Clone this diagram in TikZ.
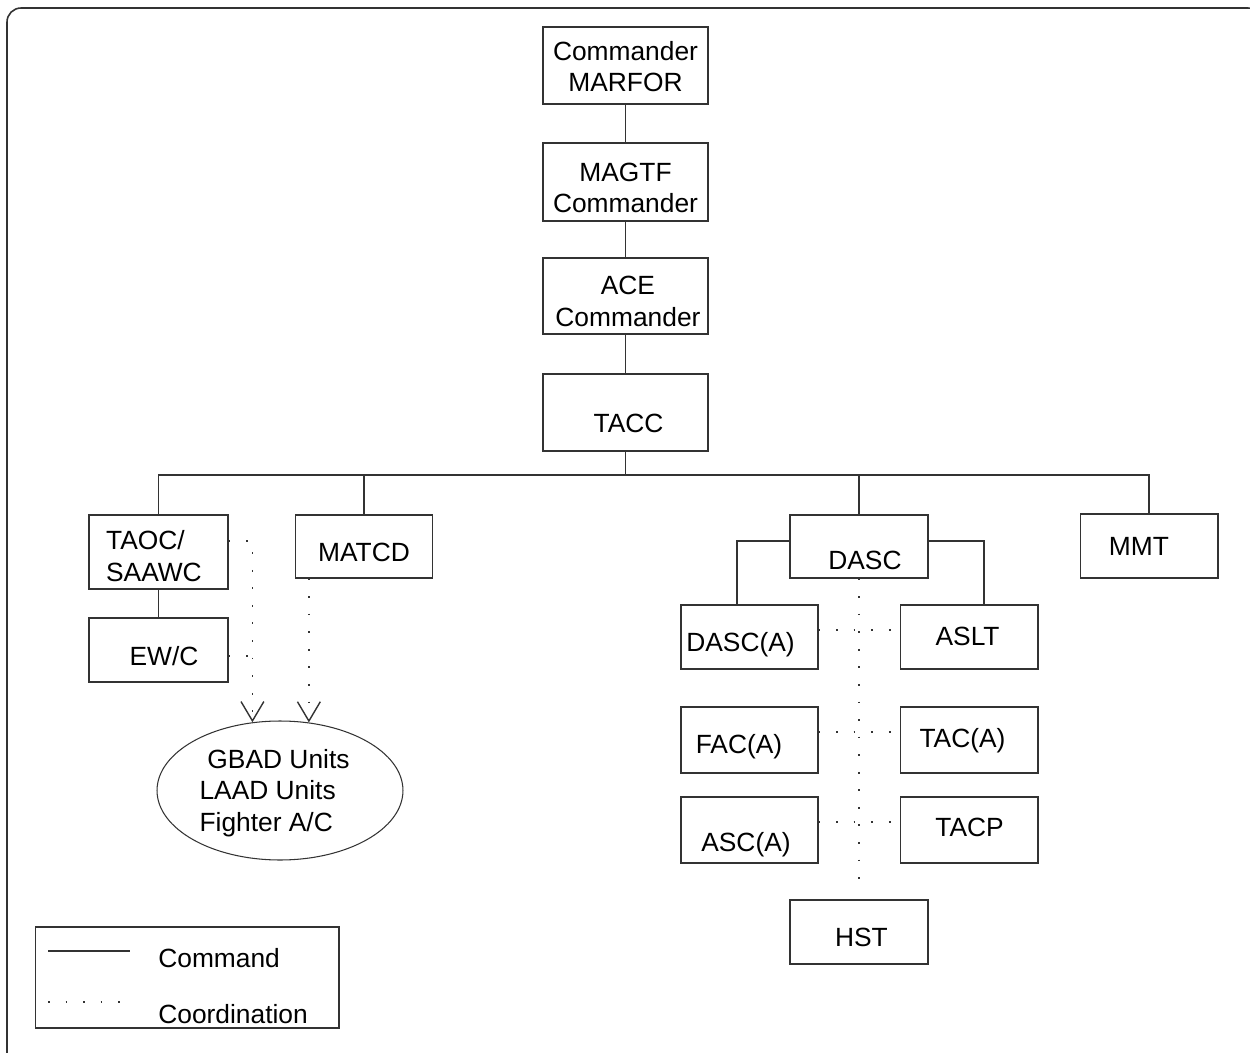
\documentclass[tikz,border=0pt]{standalone}
\usepackage{fontspec}
\setmainfont{Liberation Sans}
\usetikzlibrary{arrows.meta,shapes.geometric,calc}
\definecolor{linegray}{HTML}{333333}
% label text, moved right by #1 and down by #2 (pt) inside its box
\newcommand{\boxtxt}[3]{\raisebox{-#2pt}[\height][\depth]{\hspace*{#1pt}#3\hspace*{-#1pt}}}
\newcommand{\twolines}[2]{\begin{tabular}{@{}c@{}}#1\\#2\end{tabular}}
\tikzset{%
  box/.style={draw=linegray, line width=0.6pt, minimum width=2.76cm, minimum height=1.28cm, inner sep=0pt},
  topbox/.style={box, minimum width=3.3cm, minimum height=1.54cm},
  cmd/.style={draw=linegray, line width=0.6pt},
  coordline/.style={draw=linegray, line width=0.8pt, dash pattern=on 1pt off 9pt},
  vtip/.style={-{Straight Barb[length=11pt,width=13pt,line width=0.8pt]}}
}
\begin{document}
\begin{tikzpicture}[x=0.02cm, y=-0.02cm, font=\fontsize{15}{18}\selectfont]
    \clip (0,0) rectangle (1250,1053);
    \useasboundingbox (0,0) rectangle (1250,1053);
    % \draw (0,0) grid[step=50] (1250,1053);

    % frame, only top and left edge show
    \draw[linegray, line width=0.9pt, rounded corners=8pt] (7,1080) -- (7,8) -- (1262,8) -- (1262,1080);

      \node[topbox] (marfor) at (625.5,65.5) {\boxtxt{0}{2.4}{\twolines{Commander}{MARFOR}}};
      \node[topbox, minimum height=1.56cm] (magtf) at (625.5,182) {\boxtxt{0}{5}{\twolines{MAGTF}{Commander}}};
      \node[topbox, minimum height=1.52cm] (ace) at (625.5,296) {\boxtxt{1.4}{4.7}{\twolines{ACE}{Commander}}};
      \node[topbox] (tacc) at (625.5,412.5) {\boxtxt{1.7}{6}{TACC}};

      \node[box, minimum width=2.78cm, minimum height=1.48cm] (taoc) at (158.5,552)
        {\boxtxt{-2.6}{4.1}{\begin{tabular}{@{}l@{}}TAOC/\\SAAWC\end{tabular}}};
      \node[box, minimum width=2.78cm] (ewc) at (158.5,650) {\boxtxt{3.1}{3.7}{EW/C}};
      \node[box, minimum width=2.74cm, minimum height=1.26cm] (matcd) at (364,546.5) {\boxtxt{0}{3.4}{MATCD}};
      \node[box, minimum height=1.26cm] (dasc) at (859,546.5) {\boxtxt{3.4}{7.7}{DASC}};
      \node[box] (mmt) at (1149,546) {\boxtxt{-5.7}{0.5}{MMT}};

      \node[box, minimum width=2.74cm] (dasca) at (749.5,637) {\boxtxt{-5.1}{4.4}{DASC(A)}};
      \node[box] (aslt) at (969,637) {\boxtxt{-0.8}{-0.6}{ASLT}};
      \node[box, minimum width=2.74cm, minimum height=1.32cm] (faca) at (749.5,740) {\boxtxt{-6}{3.9}{FAC(A)}};
      \node[box, minimum height=1.32cm] (taca) at (969,740) {\boxtxt{-3.7}{0.2}{TAC(A)}};
      \node[box, minimum width=2.74cm, minimum height=1.32cm] (asca) at (749.5,830) {\boxtxt{-2}{8.1}{ASC(A)}};
      \node[box, minimum height=1.32cm] (tacp) at (969,830) {\boxtxt{0.3}{-1.4}{TACP}};
      \node[box] (hst) at (859,932) {\boxtxt{1.4}{3.1}{HST}};

      \node[ellipse, draw=linegray, line width=0.6pt, inner sep=0pt, minimum width=4.92cm, minimum height=2.78cm] (units) at (280,790.5)
        {\boxtxt{-3.1}{1.6}{\begin{tabular}{@{}l@{}}\hspace*{4.5pt}GBAD Units\\LAAD Units\\Fighter A/C\end{tabular}}};

      % command lines
      \coordinate (bus) at (625.5,475);
      \foreach \a/\b in {marfor/magtf, magtf/ace, ace/tacc, taoc/ewc}
        \draw[cmd] (\a) -- (\b);
      \draw[cmd] (tacc) -- (bus);
      \draw[cmd] (taoc.north) |- (bus) -| (mmt.north);
      \foreach \n in {matcd, dasc}
        \draw[cmd] (\n.north) -- (\n.north |- bus);
      \draw[cmd] ($(dasc.west)+(0,-5.5)$) -| ($(dasca.north)+(-12.5,0)$);
      \draw[cmd] ($(dasc.east)+(0,-5.5)$) -| ($(aslt.north)+(15,0)$);

      % coordination lines
      \draw[coordline, vtip] ($(taoc.east)+(0,-11)$) -| (units.112);
      \draw[coordline] ($(ewc.east)+(0,6)$) -- ++(25,0);
      \draw[coordline, vtip] (matcd.south -| units.67) -- (units.67);
      \draw[coordline] (dasc.south) -- ($(hst.north)+(0,-13)$);
      \draw[coordline] ($(dasca.east)+(0,-7)$) -- ($(aslt.west)+(0,-7)$);
      \draw[coordline] ($(faca.east)+(0,-8)$) -- ($(taca.west)+(0,-8)$);
      \draw[coordline] ($(asca.east)+(0,-8)$) -- ($(tacp.west)+(0,-8)$);

      % legend
      \node[draw=linegray, line width=0.6pt, inner sep=0pt, minimum width=6.08cm, minimum height=2.02cm] (legend) at (187,977.5) {};
      \draw[cmd] (48,951) -- (130,951);
      \draw[coordline] (48,1002) -- (122,1002);
      \node[anchor=west, inner sep=0pt] (lcmd) at (158,958) {Command};
      \node[anchor=west, inner sep=0pt] (lcoord) at (158,1014) {Coordination};

  \end{tikzpicture}
\end{document}
